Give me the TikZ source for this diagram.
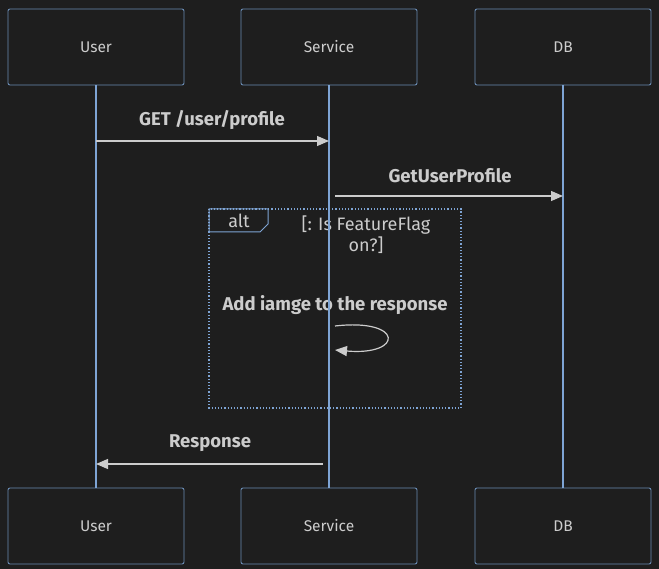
\documentclass[tikz,border=0pt]{standalone}
\usepackage{fontspec}
\setmainfont{Fira Sans}
\usetikzlibrary{arrows.meta}

\definecolor{bgcol}{HTML}{1E1E1E}
\definecolor{boxline}{HTML}{6A8CB4}
\definecolor{lifecol}{HTML}{7EA4D4}
\definecolor{txtcol}{HTML}{CCCCCC}

\tikzset{
	actor/.style={draw=boxline,fill=bgcol,rounded corners=2pt,line width=0.9pt,
		minimum width=176pt,minimum height=76pt,text=txtcol,font=\fontsize{15.5}{17}\selectfont},
	life/.style={draw=lifecol,line width=1.6pt},
	msg/.style={draw=txtcol,line width=1.2pt,-{Triangle[length=12pt,width=10pt]}},
	msglabel/.style={text=txtcol,font=\fontsize{18.5}{21}\selectfont\bfseries},
	frametext/.style={text=txtcol,font=\fontsize{18}{21}\selectfont},
	framebox/.style={draw=lifecol,line width=1.2pt,dash pattern=on 1.2pt off 2pt},
}

\begin{document}
\begin{tikzpicture}[x=1pt,y=-1pt]

	\fill[bgcol] (0,0) rectangle (659,569);
	\useasboundingbox (0,0) rectangle (659,569);

	%\draw[help lines] (0,0) grid (659,569);

	\def\userx{96}
	\def\servx{329}
	\def\dbx{563}

	% boxes, then the lifelines between them
	\node[actor] (userTop) at (\userx,47) {User};
	\node[actor] (servTop) at (\servx,47) {Service};
	\node[actor] (dbTop) at (\dbx,47) {DB};
	\node[actor] (userBot) at (\userx,526) {User};
	\node[actor] (servBot) at (\servx,526) {Service};
	\node[actor] (dbBot) at (\dbx,526) {DB};

	% alt frame
	\draw[framebox] (209,209) rectangle (461,408);
	\draw[draw=lifecol,line width=1pt] (209,209) -- (268,209) -- (268,224) -- (260,232) -- (209,232) -- cycle;
	\node[frametext] (altTag) at (239,221) {alt};
	\node[frametext,align=center,inner sep=0pt] (altCond) at (366,235)
		{[: Is FeatureFlag\\on?]};

	% labels under the lifelines
	\node[msglabel] (getLbl) at (212,120) {GET /user/profile};
	\node[msglabel] (profLbl) at (450,176) {GetUserProfile};
	\node[msglabel] (selfLbl) at (335,305) {Add iamge to the response};
	\node[msglabel] (respLbl) at (210,443) {Response};

	\foreach \who in {user,serv,db} {
		\draw[life] (\who Top.south) -- (\who Bot.north);
	}

	% messages
	\coordinate (getA) at (\userx,141);
	\coordinate (getB) at (\servx,141);
	\draw[msg] (getA) -- (getB);

	\coordinate (profA) at (335,196);
	\coordinate (profB) at (\dbx,196);
	\draw[msg] (profA) -- (profB);

	\coordinate (loopA) at (335,326);
	\coordinate (loopB) at (335,350);
	\draw[msg] (loopA) .. controls (404,318) and (404,356) .. (loopB);

	\coordinate (respA) at (323,464);
	\coordinate (respB) at (\userx,464);
	\draw[msg] (respA) -- (respB);

\end{tikzpicture}
\end{document}
